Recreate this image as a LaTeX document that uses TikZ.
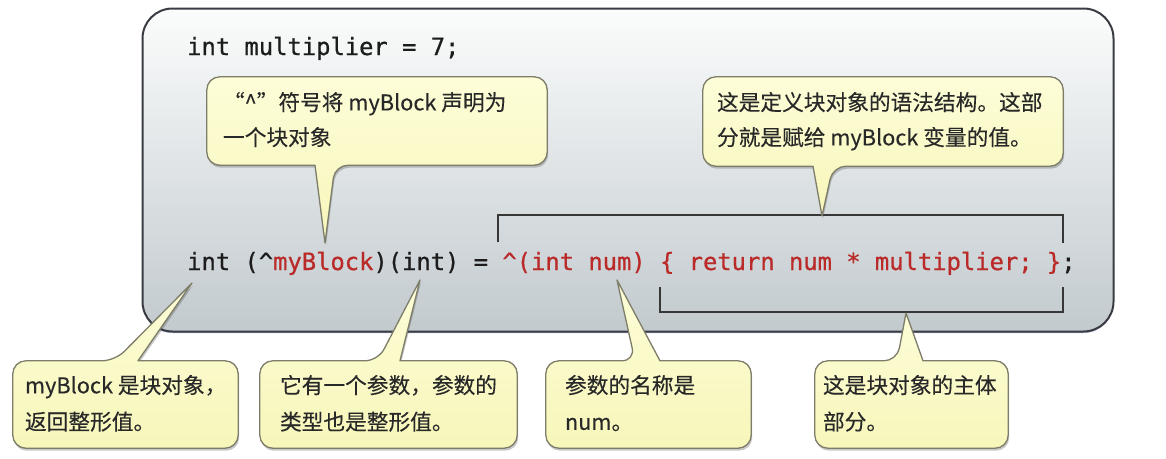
\documentclass[tikz,border=0pt]{standalone}
\usepackage{fontspec}
\setmainfont{Noto Sans CJK SC}
\newfontfamily\codefont[FakeBold=0.7]{DejaVu Sans Mono}
\newfontfamily\cjkfont[FakeBold=0.25]{Noto Sans CJK SC}
\usetikzlibrary{shadows}

\definecolor{codered}{RGB}{185,42,40}
\definecolor{codeblack}{RGB}{28,28,28}
\definecolor{notetop}{RGB}{253,253,216}
\definecolor{notebottom}{RGB}{247,246,186}
\definecolor{noteline}{RGB}{125,125,105}
\definecolor{boxtop}{RGB}{251,252,252}
\definecolor{boxbottom}{RGB}{194,202,206}
\definecolor{boxline}{RGB}{58,60,68}
\definecolor{bracketline}{RGB}{55,55,55}
\definecolor{notetextcol}{RGB}{40,40,40}

% balloon with pointer on the bottom edge: body node, base left x, base right x, tip
\newcommand\mkballoondown[4]{%
  \draw[balloon] (#1.north) [rounded corners=13pt] -- (#1.north east) -- (#1.south east)
    -- (#3,0 |- #1.south) [sharp corners] -- (#4) -- (#2,0 |- #1.south)
    [rounded corners=13pt] -- (#1.south west) -- (#1.north west) -- cycle;}
% balloon with pointer on the top edge
\newcommand\mkballoonup[4]{%
  \draw[balloon] (#1.south) [rounded corners=13pt] -- (#1.south west) -- (#1.north west)
    -- (#2,0 |- #1.north) [sharp corners] -- (#4) -- (#3,0 |- #1.north)
    [rounded corners=13pt] -- (#1.north east) -- (#1.south east) -- cycle;}

\begin{document}
\begin{tikzpicture}[x=1pt,y=-1pt,
  codetext/.style={font=\codefont\fontsize{23.8}{28}\selectfont, text=codeblack, inner sep=0pt, anchor=base west},
  body/.style={rectangle, inner sep=0pt},
  notetext/.style={font=\cjkfont\fontsize{21.7}{35}\selectfont, align=left, inner sep=0pt, anchor=north west, text=notetextcol},
  notetextlow/.style={notetext, font=\cjkfont\fontsize{21.7}{36.5}\selectfont},
  balloon/.style={draw=noteline, line width=1.3pt, line join=round, top color=notetop, bottom color=notebottom,
    drop shadow={shadow xshift=1pt, shadow yshift=-2.5pt, opacity=0.3, fill=black!70}},
  bracket/.style={draw=bracketline, line width=2pt},
  mainbox/.style={rectangle, rounded corners=30pt, draw=boxline, line width=2pt, top color=boxtop, bottom color=boxbottom,
    drop shadow={shadow xshift=0pt, shadow yshift=-1.5pt, opacity=0.35, fill=black!60!blue}}
]
\fill[white] (0,0) rectangle (1166,458);
\useasboundingbox (0,0) rectangle (1166,458);

% main box
\node[mainbox, minimum width=971pt, minimum height=323pt] (main) at (628,170) {};

% code
\node[codetext] (c1) at (187,55) {int multiplier = 7;};
\node[codetext] (c2) at (187,270) {int (\string^\textcolor{codered}{myBlock})(int) = \textcolor{codered}{\string^(int num) \{ return num * multiplier; \}};};

% brackets
\coordinate (k1) at (498,242);
\coordinate (k2) at (498,215);
\coordinate (k3) at (1063,215);
\coordinate (k4) at (1063,243);
\draw[bracket] (k1) -- (k2) -- (k3) -- (k4);
\coordinate (m1) at (660,287);
\coordinate (m2) at (660,312);
\coordinate (m3) at (1063,312);
\coordinate (m4) at (1063,287);
\draw[bracket] (m1) -- (m2) -- (m3) -- (m4);

% pointer tips
\coordinate (t1) at (325,243);
\coordinate (t2) at (822,216);
\coordinate (t3) at (192,283);
\coordinate (t4) at (420,280);
\coordinate (t5) at (617,280);
\coordinate (t6) at (906,313);

% balloon bodies
\node[body, minimum width=340pt, minimum height=88pt] (b1) at (377,121) {};
\node[body, minimum width=360pt, minimum height=89pt] (b2) at (883,121.5) {};
\node[body, minimum width=225pt, minimum height=87pt] (b3) at (125.5,404.5) {};
\node[body, minimum width=257pt, minimum height=87pt] (b4) at (388.5,404.5) {};
\node[body, minimum width=205pt, minimum height=87pt] (b5) at (648.5,404.5) {};
\node[body, minimum width=193pt, minimum height=87pt] (b6) at (911.5,404.5) {};

\mkballoondown{b1}{315}{335}{t1}
\mkballoondown{b2}{813}{833}{t2}
\mkballoonup{b3}{115}{138}{t3}
\mkballoonup{b4}{378}{400}{t4}
\mkballoonup{b5}{635}{660}{t5}
\mkballoonup{b6}{897}{923}{t6}

% balloon texts
\node[notetext] (n1) at ([xshift=16pt,yshift=-15pt]b1.north west) {“\string^”符号将 myBlock 声明为\\一个块对象};
\node[notetext] (n2) at ([xshift=14pt,yshift=-15pt]b2.north west) {这是定义块对象的语法结构。这部\\分就是赋给 myBlock 变量的值。};
\node[notetextlow] (n3) at ([xshift=12pt,yshift=-14pt]b3.north west) {myBlock 是块对象，\\返回整形值。};
\node[notetextlow] (n4) at ([xshift=20pt,yshift=-14pt]b4.north west) {它有一个参数，参数的\\类型也是整形值。};
\node[notetextlow] (n5) at ([xshift=19pt,yshift=-14pt]b5.north west) {参数的名称是\\num。};
\node[notetextlow] (n6) at ([xshift=8pt,yshift=-14pt]b6.north west) {这是块对象的主体\\部分。};
\end{tikzpicture}
\end{document}
